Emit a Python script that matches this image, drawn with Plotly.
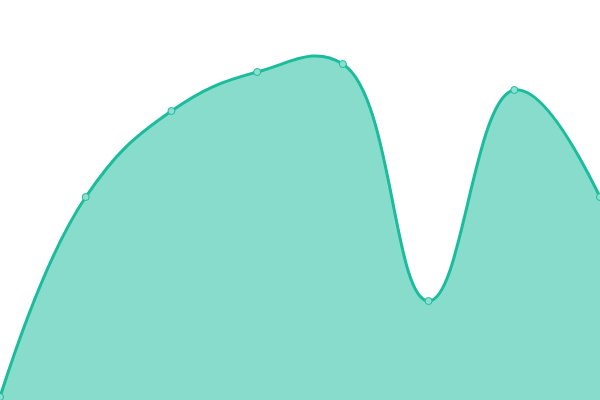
import plotly.graph_objects as go

# data
x_vals = [0, 1, 2, 3, 4, 5, 6, 7]
y_vals = [3, 203, 289, 328, 336, 99, 310, 203]

fig = go.Figure(go.Scatter(
    x=x_vals,
    y=y_vals,
    mode='lines+markers',
    line=dict(color='#1abc9c', width=3, shape='spline', smoothing=1.2),
    fill='tozeroy',
    fillcolor='rgba(26,188,156,0.52)',
    marker=dict(size=7, color='#8de0cf', line=dict(color='#1abc9c', width=1)),
    hoverinfo='skip',
))

fig.update_layout(
    width=600,
    height=400,
    margin=dict(l=0, r=0, t=0, b=0),
    paper_bgcolor='white',
    plot_bgcolor='white',
    showlegend=False,
    xaxis=dict(range=[0, 7], visible=False, fixedrange=True),
    yaxis=dict(range=[0, 400], visible=False, fixedrange=True),
)

# body has an 8px default margin, drop it so the plot sits at 0,0
fig.write_html("out.html", config={'displayModeBar': False},
               post_script="document.body.style.margin='0';")
